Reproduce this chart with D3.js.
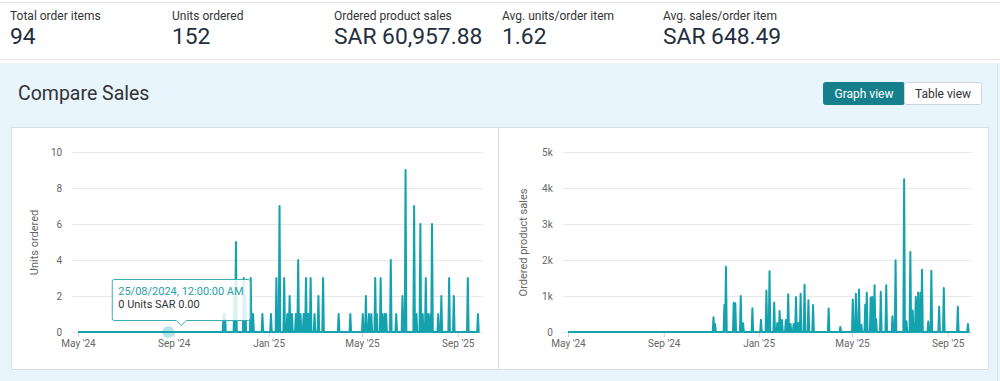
<!DOCTYPE html>
<html><head><meta charset="utf-8">
<script src="https://cdn.jsdelivr.net/npm/d3@7"></script>
<style>
body{margin:0;background:#fff;}
svg{display:block;font-family:Roboto,"Open Sans",sans-serif;}
</style></head>
<body>
<svg id="c" width="1000" height="381"></svg>
<script>
// ---- data ----
const metricLabels = ["Total order items","Units ordered","Ordered product sales","Avg. units/order item","Avg. sales/order item"];
const metricValues = ["94","152","SAR 60,957.88","1.62","SAR 648.49"];

const startDate = "2024-05-01";
const endDate = "2025-09-29";
const spikeDates = ["2024-11-04","2024-11-06","2024-11-18","2024-11-20","2024-11-30","2024-12-02","2024-12-09","2024-12-12","2024-12-24",
 "2025-01-04","2025-01-11","2025-01-15","2025-01-21","2025-01-25","2025-01-28","2025-01-31","2025-02-05","2025-02-08","2025-02-11",
 "2025-02-15","2025-02-18","2025-02-21","2025-02-24","2025-03-01","2025-03-06","2025-03-12","2025-04-01","2025-04-16",
 "2025-05-02","2025-05-06","2025-05-10","2025-05-13","2025-05-18","2025-05-20","2025-05-25","2025-05-27","2025-05-30","2025-06-01",
 "2025-06-07","2025-06-14","2025-06-22","2025-06-26","2025-07-07","2025-07-10","2025-07-15","2025-07-18","2025-07-22","2025-07-25",
 "2025-07-28","2025-07-30","2025-08-07","2025-08-11","2025-08-21","2025-08-27","2025-09-14","2025-09-27"];
const unitsValues = [1,1,2,5,3,2,3,1,1,
 1,3,7,3,1,2,1,1,4,1,
 1,3,1,3,1,2,3,1,1,
 1,2,1,1,3,1,3,1,1,1,
 4,1,2,9,7,1,6,1,3,1,
 1,6,1,2,3,2,3,1];
const salesValues = [410,220,750,1810,810,800,1000,240,660,
 340,1150,1690,820,250,580,330,330,1050,220,
 220,970,250,1060,1310,880,750,650,140,
 900,1060,1180,200,760,1100,950,980,1300,360,
 1120,1300,440,1990,4240,300,2220,600,970,1100,
 1090,1730,290,1700,700,1220,700,220];

const xTickDates = ["2024-05-01","2024-09-01","2025-01-01","2025-05-01","2025-09-01"];
const xTickLabels = ["May '24","Sep '24","Jan '25","May '25","Sep '25"];
const unitsTicks = [0,2,4,6,8,10];
const salesTicks = [0,1000,2000,3000,4000,5000];
const salesTickLabels = ["0","1k","2k","3k","4k","5k"];
const tooltipDate = "2024-08-25";
const tooltipLines = ["25/08/2024, 12:00:00 AM","0 Units SAR 0.00"];
const buttons = ["Graph view","Table view"];
const title = "Compare Sales";
const yTitles = ["Units ordered","Ordered product sales"];

// ---- build ----
const parse = d3.timeParse("%Y-%m-%d");
const unitMap = new Map(), salesMap = new Map();
spikeDates.forEach((d,i)=>{unitMap.set(d,unitsValues[i]); salesMap.set(d,salesValues[i]);});
const fmt = d3.timeFormat("%Y-%m-%d");
const days = d3.timeDay.range(parse(startDate), d3.timeDay.offset(parse(endDate),1));
const unitsSeries = days.map(d=>({date:d, v: unitMap.get(fmt(d))||0}));
const salesSeries = days.map(d=>({date:d, v: salesMap.get(fmt(d))||0}));

const svg = d3.select("#c");
const TEAL = "#14a2ae";
const TEXT = "#333";

// top metrics area
svg.append("rect").attr("x",0).attr("y",0).attr("width",1000).attr("height",62).attr("fill","#fff");
svg.append("line").attr("x1",0).attr("x2",1000).attr("y1",2.5).attr("y2",2.5).attr("stroke","#e3e3e3");
svg.append("line").attr("x1",0).attr("x2",1000).attr("y1",59.5).attr("y2",59.5).attr("stroke","#e3e3e3");
const metricX = [10,172,334,502,663];
metricLabels.forEach((l,i)=>{
  svg.append("text").attr("x",metricX[i]).attr("y",19.5).attr("font-size",12).attr("fill",TEXT).text(l);
  svg.append("text").attr("x",metricX[i]).attr("y",43.5).attr("font-size",22.8).attr("fill","#232f3e").text(metricValues[i]);
});

// blue panel
svg.append("rect").attr("x",0).attr("y",63).attr("width",1000).attr("height",318).attr("fill","#e9f5fc");
svg.append("line").attr("x1",997.5).attr("x2",997.5).attr("y1",63).attr("y2",381).attr("stroke","#dbe6ec");
svg.append("text").attr("x",18).attr("y",100).attr("font-size",19.5).attr("fill",TEXT).text(title);

// buttons
svg.append("rect").attr("x",823.5).attr("y",82.5).attr("width",81).attr("height",22).attr("rx",2).attr("fill","#167f8c").attr("stroke","#167f8c");
svg.append("rect").attr("x",904.5).attr("y",82.5).attr("width",77).attr("height",22).attr("rx",2).attr("fill","#fff").attr("stroke","#cfd6d9");
svg.append("text").attr("x",864).attr("y",97.5).attr("text-anchor","middle").attr("font-size",12).attr("fill","#fff").text(buttons[0]);
svg.append("text").attr("x",943).attr("y",97.5).attr("text-anchor","middle").attr("font-size",12).attr("fill",TEXT).text(buttons[1]);

// cards
svg.append("rect").attr("x",11.5).attr("y",127.5).attr("width",977).attr("height",242).attr("fill","#fff").attr("stroke","#d9e0e3");
svg.append("line").attr("x1",498.5).attr("x2",498.5).attr("y1",127.5).attr("y2",369.5).attr("stroke","#d9e0e3");

function chart(cfg){
  const g = svg.append("g");
  const x = d3.scaleTime().domain([parse(xTickDates[0]), parse(xTickDates[4])]).range([cfg.x0, cfg.x1]);
  const y = d3.scaleLinear().domain([0, cfg.max]).range([332, 152]);
  const ya = d3.axisLeft(y).tickValues(cfg.ticks).tickFormat((d,i)=>cfg.tickLabels[i])
     .tickSize(-(cfg.gr - cfg.gl)).tickPadding(10.5);
  const yg = g.append("g").attr("transform",`translate(${cfg.gl},0)`).call(ya);
  yg.select(".domain").remove();
  yg.selectAll(".tick line").attr("stroke","#e8e8e8");
  yg.selectAll(".tick text").attr("font-size",10).attr("fill","#666").attr("font-family","Roboto,sans-serif");
  const xa = d3.axisBottom(x).tickValues(xTickDates.map(parse)).tickFormat((d,i)=>xTickLabels[i]).tickSize(4).tickPadding(3);
  const xg = g.append("g").attr("transform","translate(0,333)").call(xa);
  xg.select(".domain").remove();
  xg.selectAll(".tick line").attr("stroke","#d0d0d0");
  xg.selectAll(".tick text").attr("font-size",10).attr("fill","#666").attr("font-family","Roboto,sans-serif");
  g.append("text").attr("transform",`translate(${cfg.tx},242.5) rotate(-90)`).attr("text-anchor","middle")
   .attr("font-size",11).attr("fill","#666").text(cfg.title);
  const line = d3.line().x(d=>x(d.date)).y(d=>y(d.v));
  g.append("path").datum(cfg.series).attr("d",line).attr("fill","none")
   .attr("stroke",TEAL).attr("stroke-width",2).attr("stroke-linejoin","round");
  return {x,y,g};
}

const left = chart({x0:78, x1:457.7, gl:72.7, gr:483.3, max:10, ticks:unitsTicks, tickLabels:unitsTicks.map(String),
  tx:38, title:yTitles[0], series:unitsSeries});
const right = chart({x0:568, x1:947.7, gl:563.3, gr:971.7, max:5000, ticks:salesTicks, tickLabels:salesTickLabels,
  tx:527, title:yTitles[1], series:salesSeries});

// hover marker + tooltip
const td = parse(tooltipDate);
const px = left.x(td), py = left.y(0);
left.g.append("circle").attr("cx",px).attr("cy",py).attr("r",6).attr("fill",TEAL).attr("opacity",0.3);
const bx0 = px - 56, bx1 = px + 82, by0 = 279.5, by1 = 320.5, tipX = px + 13;
const tp = d3.path();
tp.moveTo(bx0+2,by0); tp.lineTo(bx1-2,by0); tp.quadraticCurveTo(bx1,by0,bx1,by0+2);
tp.lineTo(bx1,by1-2); tp.quadraticCurveTo(bx1,by1,bx1-2,by1);
tp.lineTo(tipX+5,by1); tp.lineTo(tipX,by1+5); tp.lineTo(tipX-5,by1);
tp.lineTo(bx0+2,by1); tp.quadraticCurveTo(bx0,by1,bx0,by1-2);
tp.lineTo(bx0,by0+2); tp.quadraticCurveTo(bx0,by0,bx0+2,by0); tp.closePath();
left.g.append("path").attr("d",tp.toString()).attr("fill","rgba(255,255,255,0.85)").attr("stroke","#3aaeb5").attr("stroke-width",1);
left.g.append("text").attr("x",bx0+6).attr("y",294.5).attr("font-size",11).attr("fill","#2a9fa8").text(tooltipLines[0]);
left.g.append("text").attr("x",bx0+6).attr("y",307.5).attr("font-size",11).attr("fill",TEXT).text(tooltipLines[1]);
</script>
</body></html>
